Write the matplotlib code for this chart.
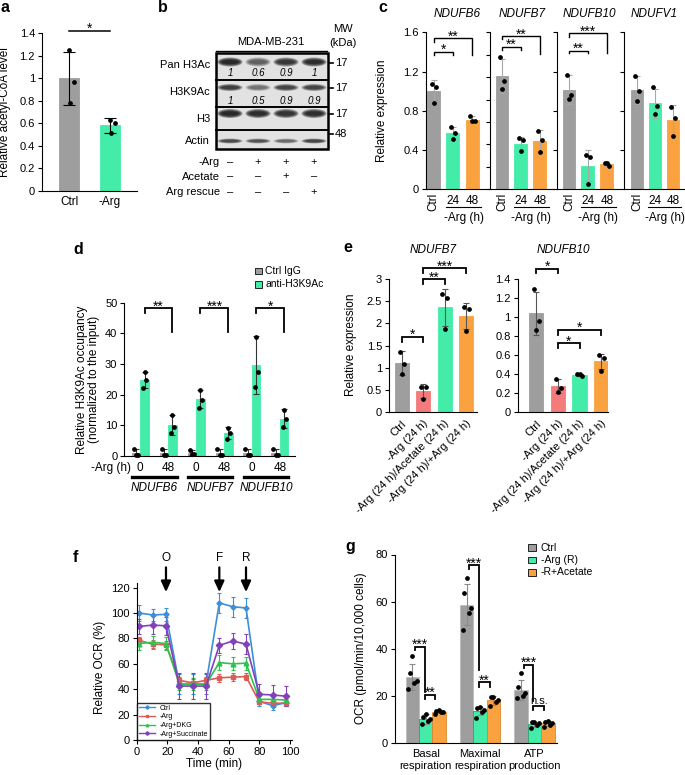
import matplotlib
matplotlib.use("Agg")
import matplotlib.pyplot as plt
import numpy as np
from matplotlib.patches import Rectangle, Ellipse
from matplotlib.lines import Line2D
from matplotlib.ticker import FormatStrFormatter
from matplotlib.transforms import ScaledTranslation

plt.rcParams['font.family'] = ['Liberation Sans', 'DejaVu Sans']
plt.rcParams['font.size'] = 8
plt.rcParams['axes.linewidth'] = 0.8
plt.rcParams['xtick.labelsize'] = 8
plt.rcParams['ytick.labelsize'] = 8

GRAY, GREEN, ORANGE, SALMON = '#9e9e9e', '#44eca9', '#f9a23f', '#f47b7b'
LAB = 8.5

# ---- a: acetyl-CoA ----
a_groups = ['Ctrl', '-Arg']
a_mean = [1.0, 0.58]
a_sd = [0.235, 0.065]
a_pts = [[1.25, 0.97, 0.78], [0.63, 0.60, 0.51]]

# ---- b: western blot ----
b_rows = ['Pan H3Ac', 'H3K9Ac', 'H3', 'Actin']
b_mw = ['17', '17', '17', '48']
b_band = [[1.0, 0.55, 0.85, 0.95], [0.8, 0.45, 0.75, 0.75],
          [1.0, 0.95, 0.9, 0.95], [0.7, 0.65, 0.5, 0.75]]
b_quant = [['1', '0.6', '0.9', '1'], ['1', '0.5', '0.9', '0.9']]
b_treat = ['-Arg', 'Acetate', 'Arg rescue']
b_signs = [['–', '+', '+', '+'], ['–', '–', '+', '–'], ['–', '–', '–', '+']]

# ---- c: qPCR, -Arg time course ----
c_genes = ['NDUFB6', 'NDUFB7', 'NDUFB10', 'NDUFV1']
c_hours = ['24', '48']
c_mean = [[1.0, 0.57, 0.71], [1.155, 0.46, 0.49], [1.015, 0.24, 0.257], [1.01, 0.875, 0.705]]
c_sd = [[0.115, 0.07, 0.035], [0.175, 0.07, 0.115], [0.145, 0.16, 0.015], [0.14, 0.15, 0.15]]
c_pts = [[[1.07, 1.04, 0.88], [0.63, 0.57, 0.51], [0.75, 0.70, 0.70]],
         [[1.35, 1.10, 1.02], [0.52, 0.50, 0.39], [0.59, 0.50, 0.38]],
         [[1.165, 0.96, 0.92], [0.35, 0.33, 0.055], [0.265, 0.24, 0.265]],
         [[1.155, 1.0, 0.90], [1.04, 0.85, 0.77], [0.84, 0.73, 0.54]]]
c_sig = [[(0, 1, 1.40, 1.37, 1.37, '*'), (0, 2, 1.54, 1.505, 1.37, '**')],
         [(0, 1, 1.45, 1.415, 1.415, '**'), (0, 2, 1.56, 1.53, 1.375, '**')],
         [(0, 1, 1.41, 1.385, 1.385, '**'), (0, 2, 1.59, 1.555, 1.39, '***')],
         []]

# ---- d: ChIP ----
d_genes = ['NDUFB6', 'NDUFB7', 'NDUFB10']
d_time = ['0', '48', '0', '48', '0', '48']
d_igg_mean = [1.0, 0.97, 1.1, 0.93, 0.93, 0.93]
d_igg_sd = [1.2, 1.3, 0.9, 1.2, 1.2, 1.2]
d_igg_pts = [[2.3, 0.4, 0.3], [2.4, 0.3, 0.2], [2.1, 0.7, 0.5],
             [2.3, 0.3, 0.2], [2.3, 0.3, 0.2], [2.3, 0.3, 0.2]]
d_ab_mean = [24.7, 10.1, 18.5, 7.4, 29.6, 12.2]
d_ab_sd = [2.6, 3.4, 2.9, 1.9, 9.5, 3.0]
d_ab_pts = [[27.3, 24.8, 22.1], [13.4, 9.4, 7.6], [21.4, 18.4, 15.8],
            [9.2, 7.5, 5.6], [38.9, 27.3, 22.6], [15.1, 12.2, 9.3]]
d_sig = ['**', '***', '*']

# ---- e: qPCR rescue ----
e_groups = ['Ctrl', '-Arg (24 h)', '-Arg (24 h)/Acetate (24 h)', '-Arg (24 h)/+Arg (24 h)']
e7_mean = [1.10, 0.48, 2.36, 2.17]
e7_sd = [0.27, 0.16, 0.41, 0.29]
e7_pts = [[1.365, 1.08, 0.855], [0.58, 0.56, 0.30], [2.655, 2.565, 1.875], [2.38, 2.325, 1.83]]
e7_sig = [(0, 1, 1.70, 1.59, 1.59, '*'), (1, 2, 2.99, 2.89, 2.89, '**'), (1, 3, 3.24, 3.13, 3.13, '***')]
e10_mean = [1.04, 0.277, 0.393, 0.535]
e10_sd = [0.225, 0.07, 0.008, 0.08]
e10_pts = [[1.295, 0.963, 0.865], [0.35, 0.26, 0.217], [0.40, 0.385, 0.40], [0.60, 0.567, 0.437]]
e10_sig = [(0, 1, 1.51, 1.46, 1.46, '*'), (1, 2, 0.725, 0.672, 0.672, '*'), (1, 3, 0.865, 0.81, 0.81, '*')]

# ---- f: Seahorse trace ----
f_time = [1.7, 10.4, 19.1, 27.8, 36.5, 45.2, 53.9, 62.6, 71.3, 80.0, 88.7, 97.4]
f_labels = ['Ctrl', '-Arg', '-Arg+DKG', '-Arg+Succinate']
f_ctrl = [100, 98.5, 99, 44, 44, 44, 108, 105, 104, 30.5, 27, 29.5]
f_arg = [78.5, 75.5, 75, 47, 45, 47, 49, 49.5, 50, 30, 29, 29]
f_dkg = [76, 77, 76, 44, 44, 44, 61, 60, 60.5, 32, 32, 31.5]
f_succ = [89.5, 90.5, 90, 42.5, 42.5, 42.5, 74.5, 78, 75.5, 36, 35.5, 34.5]
f_ctrl_sd = [6, 5, 5, 8, 8, 8, 8, 8, 8, 4, 3, 3]
f_arg_sd = [3, 3, 3, 3, 3, 3, 3, 3, 3, 2, 2, 2]
f_dkg_sd = [5, 5, 5, 5, 5, 5, 6, 5, 5, 3, 3, 3]
f_succ_sd = [6, 7, 7, 10, 10, 10, 6, 6, 8, 8, 8, 8]
f_inject = [19.1, 53.9, 71.3]
f_inject_lab = ['O', 'F', 'R']

# ---- g: OCR parameters ----
g_cats = ['Basal\nrespiration', 'Maximal\nrespiration', 'ATP\nproduction']
g_series = ['Ctrl', '-Arg (R)', '-R+Acetate']
g_mean = [[28.2, 58.7, 22.7], [10.3, 13.7, 8.1], [13.4, 18.2, 8.5]]
g_sd = [[5.5, 8.6, 4.2], [2.1, 1.8, 1.0], [0.7, 1.8, 1.0]]
g_pts = [[[37.1, 29.6, 26.4, 25.7, 23.0], [70.2, 63.5, 57.5, 55.3, 47.9], [29.6, 24.0, 21.2, 20.2, 19.3]],
         [[12.3, 11.3, 10.3, 9.5, 8.0], [15.5, 14.8, 14.1, 13.4, 10.9], [9.2, 8.9, 8.5, 7.8, 6.6]],
         [[14.0, 13.7, 13.4, 13.1, 12.6], [19.8, 19.5, 18.4, 17.4, 15.8], [9.6, 9.2, 8.5, 7.8, 6.8]]]
g_sig = [(0, 0, 1, 41.0, 39.5, 21.9, '***'), (0, 1, 2, 20.5, 18.8, 18.8, '**'),
         (1, 0, 1, 75.5, 73.8, 31.1, '***'), (1, 1, 2, 25.8, 24.0, 24.0, '**'),
         (2, 0, 1, 33.2, 31.8, 18.0, '***'), (2, 1, 2, 16.0, 14.1, 14.1, 'n.s.')]

JIT3 = [-0.1, 0.12, 0.0]
JIT5 = [0.0, -0.05, 0.08, 0.04, -0.07]

W, H = 685, 775
fig = plt.figure(figsize=(W / 100, H / 100), dpi=100)


def px_axes(l, t, r, b):
    return fig.add_axes([l / W, 1 - b / H, (r - l) / W, (b - t) / H])


def ftext(x, y, s, **kw):
    fig.text(x / W, 1 - y / H, s, **kw)


def style(ax):
    for s in ('top', 'right'):
        ax.spines[s].set_visible(False)
    ax.tick_params(axis='y', direction='out', length=3, width=0.8, pad=2)
    ax.tick_params(axis='x', length=0)
    ax.yaxis.set_major_formatter(FormatStrFormatter('%g'))


def draw_bars(ax, xs, means, sds, pts, colors, width, ecolor, jit, cap=2.5, edge=None):
    ax.bar(xs, means, width, color=colors, edgecolor=edge if edge else colors, linewidth=0.6, zorder=1)
    ax.errorbar(xs, means, yerr=sds, fmt='none', ecolor=ecolor, elinewidth=0.8,
                capsize=cap, capthick=0.8, zorder=2)
    for x, p in zip(xs, pts):
        ax.plot(x + np.array(jit[:len(p)]), p, 'o', ms=2.4, color='k', zorder=3, clip_on=False)


def bracket(ax, x0, x1, y, y0, y1, label, lw=1.1):
    ax.plot([x0, x0, x1, x1], [y0, y, y, y1], color='k', lw=lw, clip_on=False,
            solid_joinstyle='miter', zorder=4)
    if label.startswith('*'):
        fs, dy = 10, -1.6
    else:
        fs, dy = 8, 1.0
    ax.annotate(label, ((x0 + x1) / 2, y), xytext=(0, dy), textcoords='offset points',
                ha='center', va='baseline', fontsize=fs, annotation_clip=False)


# overlay in pixel coordinates for the blot and legends, kept above the panels
ov = fig.add_axes([0, 0, 1, 1])
ov.set_xlim(0, W); ov.set_ylim(H, 0); ov.axis('off')
ov.set_zorder(10)

for lab, x, y in [('a', 0.5, 7), ('b', 158, 7), ('c', 378, 7), ('d', 73, 250),
                  ('e', 343, 248), ('f', 73, 557), ('g', 345, 546)]:
    ftext(x, y, lab, fontsize=11.5, fontweight='bold', ha='left', va='center')

# ---------------- a ----------------
ax = px_axes(42, 33.3, 137, 190.7)
xa = np.arange(len(a_groups))
draw_bars(ax, xa, a_mean, a_sd, a_pts, [GRAY, GREEN], 0.49, 'k', [0, 0.12, 0.02], cap=4.3)
ax.set_xlim(-0.66, 1.66); ax.set_ylim(0, 1.4)
style(ax)
ax.set_yticks(np.arange(0, 1.41, 0.2))
ax.set_xticks(xa, a_groups, fontsize=LAB)
ax.tick_params(axis='x', pad=4)
ax.set_ylabel('Relative acetyl-CoA level', fontsize=LAB)
ax.yaxis.set_label_coords(-0.33, 0.5)
bracket(ax, 0, 1, 1.42, 1.42, 1.42, '*')

# ---------------- b ----------------
lane_x = 230 + 28 * np.arange(4)
row_y = [62, 87.5, 113.5, 141]
row_lab_y = [65, 92, 119, 141]
band_h = [9, 7, 9, 5]
ov.add_patch(Rectangle((216, 53), 112, 96, facecolor='#e2e2e2', edgecolor='k', lw=1.8))
for yl in (80, 107, 130):
    ov.plot([216, 328], [yl, yl], color='k', lw=1.4)
for r in range(4):
    for k, x in enumerate(lane_x):
        for f in (1.0, 0.82, 0.64, 0.46):
            ov.add_patch(Ellipse((x, row_y[r]), 25 * (0.45 + 0.55 * f), band_h[r] * f,
                                 color='k', alpha=0.34 * b_band[r][k], lw=0))
    ov.text(210, row_lab_y[r], b_rows[r], ha='right', va='center', fontsize=8)
for r, qy in enumerate((73, 101)):
    for k, x in enumerate(lane_x):
        ov.text(x, qy, b_quant[r][k], ha='center', va='center', fontsize=7, style='italic')
for y, m in zip((62.7, 88.3, 114.3, 134), b_mw):
    ov.plot([329, 333], [y, y], color='k', lw=1.2)
    ov.text(335, y, m, ha='left', va='center', fontsize=8)
ov.text(271, 41.7, 'MDA-MB-231', ha='center', va='center', fontsize=8)
ov.plot([216, 327], [50.7, 50.7], color='k', lw=1.0)
ov.text(343, 29, 'MW', ha='center', va='center', fontsize=8)
ov.text(343, 42.7, '(kDa)', ha='center', va='center', fontsize=8)
for r, ty in enumerate((161.7, 176.5, 192)):
    ov.text(220, ty, b_treat[r], ha='right', va='center', fontsize=8)
    for k, x in enumerate(lane_x):
        ov.text(x, ty, b_signs[r][k], ha='center', va='center', fontsize=8)

# ---------------- c ----------------
c_frames = [(426, 488.5, -0.39, 2.84), (490, 554, -0.63, 2.74),
            (557, 621, -0.63, 2.74), (624, 684, -0.72, 2.61)]
c_ticks = [np.arange(0, 1.61, 0.4), np.arange(0, 8) * 1.6 / 7,
           np.arange(0, 1.61, 0.4), np.arange(0, 1.61, 0.4)]
xc = np.arange(3)
for k, gene in enumerate(c_genes):
    l, r, x0, x1 = c_frames[k]
    ax = px_axes(l, 32.3, r, 189.3)
    draw_bars(ax, xc, c_mean[k], c_sd[k], c_pts[k], [GRAY, GREEN, ORANGE], 0.68, '#a8a8a8', JIT3)
    ax.set_xlim(x0, x1); ax.set_ylim(0, 1.6)
    style(ax)
    ax.set_xticks([])
    ax.set_yticks(c_ticks[k])
    if k == 0:
        ax.set_ylabel('Relative expression', fontsize=LAB)
        ax.yaxis.set_label_coords(-0.6, 0.5)
    else:
        ax.set_yticklabels([])
    ax.text(0.5, 1.117, gene, transform=ax.transAxes, ha='center', va='center',
            style='italic', fontsize=LAB)
    tr = ax.get_xaxis_transform()
    ax.text(0, -0.022, 'Ctrl', transform=tr, rotation=90, ha='center', va='top', fontsize=LAB)
    for x, t in zip(xc[1:], c_hours):
        ax.text(x, -0.075, t, transform=tr, ha='center', va='center', fontsize=LAB)
    ax.plot([0.62, 2.47], [-0.113, -0.113], transform=tr, clip_on=False, color='k', lw=0.8)
    ax.text(1.55, -0.183, '-Arg (h)', transform=tr, ha='center', va='center', fontsize=LAB)
    for (i, j, y, yi, yj, lab) in c_sig[k]:
        bracket(ax, i, j, y, yi, yj, lab, lw=1.0)

# ---------------- d ----------------
ax = px_axes(124.3, 302.7, 295, 456)
xd = np.arange(len(d_time))
draw_bars(ax, xd - 0.155, d_igg_mean, d_igg_sd, d_igg_pts, [GRAY] * 6, 0.3, '#333333', [-0.08, 0.0, 0.08], cap=2.2)
draw_bars(ax, xd + 0.155, d_ab_mean, d_ab_sd, d_ab_pts, [GREEN] * 6, 0.3, '#333333', [0.0, 0.06, -0.06], cap=2.2)
ax.set_xlim(-0.57, 5.54); ax.set_ylim(0, 50)
style(ax)
ax.set_xticks([])
ax.set_yticks(np.arange(0, 51, 10))
ax.set_ylabel('Relative H3K9Ac occupancy\n(normalized to the input)', fontsize=LAB, linespacing=1.1)
ax.yaxis.set_label_coords(-0.14, 0.5)
tr = ax.get_xaxis_transform()
for x, t in zip(xd, d_time):
    ax.text(x, -0.078, t, transform=tr, ha='center', va='center', fontsize=LAB)
ax.text(-0.32, -0.078, '-Arg (h)', transform=tr, ha='right', va='center', fontsize=LAB)
for g, gene in enumerate(d_genes):
    ax.plot([2 * g - 0.3, 2 * g + 1.3], [-0.137, -0.137], transform=tr, clip_on=False, color='k', lw=2.4)
    ax.text(2 * g + 0.5, -0.21, gene, transform=tr, ha='center', va='center', style='italic', fontsize=LAB)
    bracket(ax, 2 * g + 0.155, 2 * g + 1.155, 48.2, 46.7, 40.5, d_sig[g], lw=1.3)
for y, lab, col in [(271, 'Ctrl IgG', GRAY), (284.3, 'anti-H3K9Ac', GREEN)]:
    ov.add_patch(Rectangle((255, y - 3.3), 7.5, 6.6, facecolor=col, edgecolor='#222222', lw=0.7))
    ov.text(265.5, y, lab, ha='left', va='center', fontsize=7.5)

# ---------------- e ----------------
xe = np.arange(len(e_groups))
for (l, r, x0, x1, top, ticks, mean, sd, pts, sig, gene) in [
        (389, 476.7, -0.6, 3.5, 3.0, np.arange(0, 3.01, 0.5), e7_mean, e7_sd, e7_pts, e7_sig, 'NDUFB7'),
        (517.7, 608.3, -0.86, 3.33, 1.4, np.arange(0, 1.41, 0.2), e10_mean, e10_sd, e10_pts, e10_sig, 'NDUFB10')]:
    ax = px_axes(l, 279, r, 412.3)
    draw_bars(ax, xe, mean, sd, pts, [GRAY, SALMON, GREEN, ORANGE], 0.66, '#555555', JIT3)
    ax.set_xlim(x0, x1); ax.set_ylim(0, top)
    style(ax)
    ax.set_yticks(ticks)
    ax.set_xticks(xe, e_groups, rotation=45, ha='right', va='center', rotation_mode='anchor', fontsize=8)
    ax.tick_params(axis='x', pad=7)
    for lbl in ax.get_xticklabels():
        lbl.set_transform(lbl.get_transform() + ScaledTranslation(3 / 100, 0, fig.dpi_scale_trans))
    ax.text(0.5, 1.218, gene, transform=ax.transAxes, ha='center', va='center', style='italic', fontsize=LAB)
    for (i, j, y, yi, yj, lab) in sig:
        bracket(ax, i, j, y, yi, yj, lab, lw=1.3)
    if gene == 'NDUFB7':
        ax.set_ylabel('Relative expression', fontsize=LAB)
        ax.yaxis.set_label_coords(-0.365, 0.51)

# ---------------- f ----------------
ax = px_axes(136.7, 582.6, 292.3, 740)
f_series = [(f_ctrl, f_ctrl_sd, '#3c8fd8', 'D', 2.6), (f_arg, f_arg_sd, '#de5a55', 's', 3.2),
            (f_dkg, f_dkg_sd, '#2fc24f', '^', 3.4), (f_succ, f_succ_sd, '#8141b8', 'D', 3.2)]
handles = []
for (y, sd, col, m, ms), lab in zip(f_series, f_labels):
    ax.errorbar(f_time, y, yerr=sd, color=col, marker=m, ms=ms, lw=1.2,
                elinewidth=0.8, capsize=1.5, capthick=0.8)
    handles.append(Line2D([], [], color=col, marker=m, ms=1.8, lw=1.0))
ax.set_xlim(0, 101.5); ax.set_ylim(0, 124)
style(ax)
ax.tick_params(axis='x', direction='out', length=3, width=0.8, pad=2)
ax.set_xticks(np.arange(0, 101, 20)); ax.set_yticks(np.arange(0, 121, 20))
ax.set_xlabel('Time (min)', fontsize=LAB, labelpad=1)
ax.set_ylabel('Relative OCR (%)', fontsize=LAB)
ax.yaxis.set_label_coords(-0.2, 0.46)
for t, lab in zip(f_inject, f_inject_lab):
    ax.annotate('', xy=(t, 116.5), xytext=(t, 136), annotation_clip=False,
                arrowprops=dict(arrowstyle='-|>,head_length=0.46,head_width=0.21', lw=1.6,
                                color='k', shrinkA=0, shrinkB=0, mutation_scale=14))
    ax.text(t, 143.5, lab, ha='center', va='center', fontsize=LAB, clip_on=False)
leg = ax.legend(handles, f_labels, loc='lower left', bbox_to_anchor=(0, 0), borderaxespad=0,
                fontsize=5, frameon=True, fancybox=False, edgecolor='k', handlelength=2.4,
                labelspacing=0.25, borderpad=0.3, handletextpad=0.6)
leg.get_frame().set_linewidth(1.0)

# ---------------- g ----------------
ax = px_axes(395, 554.5, 556.7, 743.3)
xg = np.arange(len(g_cats))
offs = [-0.247, 0.0, 0.247]
g_colors = [GRAY, GREEN, ORANGE]
g_edges = ['#bdbdbd', '#2a9d6e', '#d98a30']
for s in range(3):
    draw_bars(ax, xg + offs[s], g_mean[s], g_sd[s], g_pts[s], [g_colors[s]] * 3, 0.247,
              '#8a8a8a', JIT5, cap=2.0, edge=g_edges[s])
ax.set_xlim(-0.565, 2.41); ax.set_ylim(0, 80)
style(ax)
ax.set_yticks(np.arange(0, 81, 20))
ax.set_xticks(xg, g_cats, fontsize=8, linespacing=1.25)
ax.tick_params(axis='x', pad=4)
ax.set_ylabel('OCR (pmol/min/10,000 cells)', fontsize=LAB)
ax.yaxis.set_label_coords(-0.175, 0.505)
for (c, i, j, y, yi, yj, lab) in g_sig:
    if lab == '***':
        x0, x1 = c + offs[i] + 0.05, c + offs[j] - 0.02
    else:
        x0, x1 = c + offs[i] - 0.02, c + offs[j] - 0.07
    bracket(ax, x0, x1, y, yi, yj, lab, lw=1.3)
for y, lab, col in zip((547.7, 560, 572.3), g_series, g_colors):
    ov.add_patch(Rectangle((528.5, y - 3.3), 7.3, 6.6, facecolor=col, edgecolor='#222222', lw=0.7))
    ov.text(540.7, y, lab, ha='left', va='center', fontsize=7.5)

fig.savefig('out.png', dpi=100)
